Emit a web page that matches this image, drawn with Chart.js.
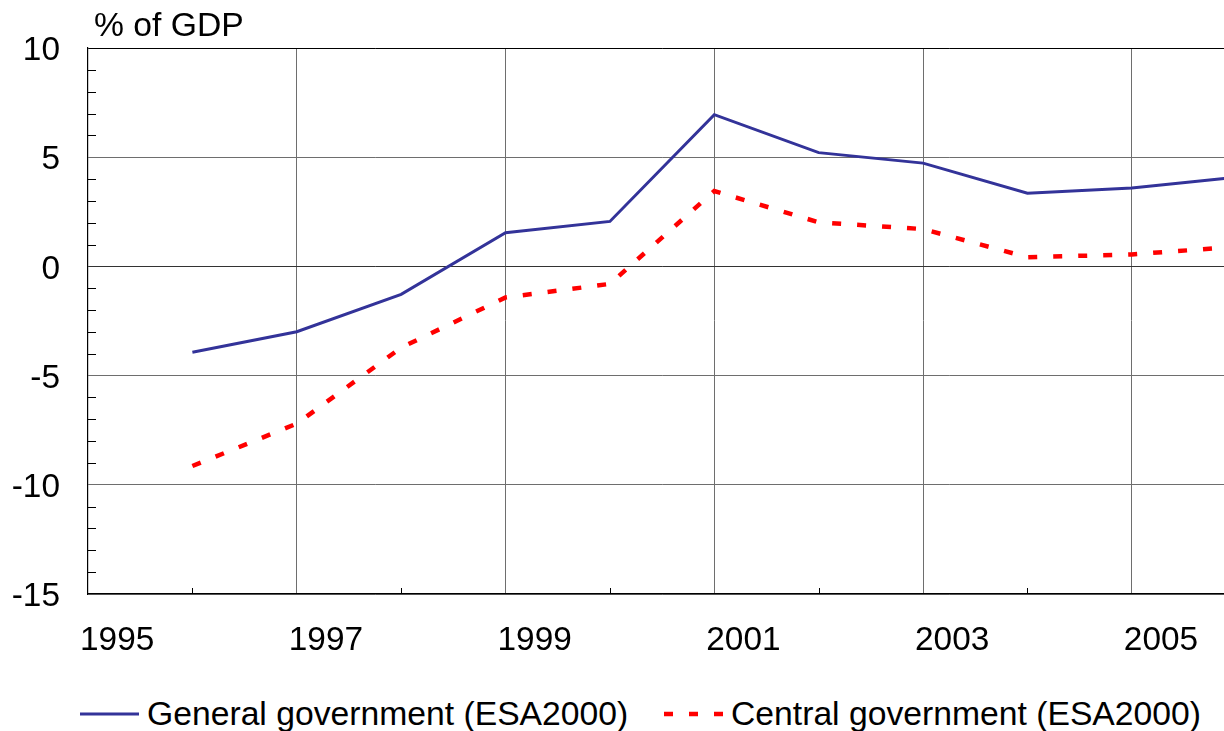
<!DOCTYPE html>
<html>
<head>
<meta charset="utf-8">
<title>Government balance</title>
<script src="https://cdn.jsdelivr.net/npm/chart.js@4.4.1/dist/chart.umd.min.js"></script>
<style>
  html, body { margin: 0; padding: 0; background: #fff; overflow: hidden; }
  #wrap { position: relative; width: 1280px; height: 731px; font-family: "Liberation Sans", Arial, sans-serif; color: #000; }
  #chart-box { position: absolute; left: 0; top: 0; width: 1280px; height: 684px; }
  .unit { position: absolute; left: 94px; top: 8px; font-size: 33.7px; line-height: 1; }
  .legend-item { position: absolute; top: 697px; display: flex; align-items: center; font-size: 33.7px; line-height: 1; white-space: nowrap; }
  .legend-item svg { margin-right: 8px; }
</style>
</head>
<body>
<div id="wrap">
  <div id="chart-box"><canvas id="balance-chart" role="img" aria-label="General and central government balance, % of GDP"></canvas></div>
  <div class="unit">% of GDP</div>
  <div class="legend-item" style="left:80px;">
    <svg width="59" height="10"><line x1="0" y1="5" x2="59" y2="5" stroke="#333399" stroke-width="3"/></svg>General government (ESA2000)
  </div>
  <div class="legend-item" style="left:664px;">
    <svg width="59" height="10"><line x1="0" y1="5" x2="59" y2="5" stroke="#ff0000" stroke-width="4.5" stroke-dasharray="9 16"/></svg>Central government (ESA2000)
  </div>
</div>
<script>
// balance, % of GDP, one point per year
const years = [1996, 1997, 1998, 1999, 2000, 2001, 2002, 2003, 2004, 2005, 2006];
const generalGov = [-3.93, -2.99, -1.28, 1.54, 2.06, 6.95, 5.21, 4.73, 3.35, 3.59, 4.08];
const centralGov = [-9.14, -7.2, -3.72, -1.42, -0.8, 3.45, 2.02, 1.71, 0.42, 0.55, 0.9];

// axis ticks
const yLabelTicks = [-15, -10, -5, 0, 5, 10];
const xLabelYears = [1995, 1997, 1999, 2001, 2003, 2005];

const FONT = { family: '"Liberation Sans", Arial, sans-serif', size: 33.4 };

// short inward tick marks for the unlabelled steps
const minorTicks = {
  id: 'minorTicks',
  beforeDatasetsDraw(chart) {
    const { ctx, chartArea, scales: { x, y } } = chart;
    ctx.save();
    ctx.strokeStyle = '#000';
    ctx.lineWidth = 1;
    ctx.beginPath();
    y.ticks.forEach(t => {
      if (yLabelTicks.includes(t.value)) return;
      const py = Math.round(y.getPixelForValue(t.value)) + 0.5;
      ctx.moveTo(chartArea.left, py);
      ctx.lineTo(chartArea.left + 8, py);
    });
    x.ticks.forEach(t => {
      if (xLabelYears.includes(t.value)) return;
      const px = Math.round(x.getPixelForValue(t.value)) + 0.5;
      ctx.moveTo(px, chartArea.bottom);
      ctx.lineTo(px, chartArea.bottom - 6);
    });
    ctx.stroke();
    ctx.restore();
  }
};

new Chart(document.getElementById('balance-chart'), {
  type: 'line',
  data: {
    datasets: [
      {
        label: 'General government (ESA2000)',
        data: years.map((yr, i) => ({ x: yr, y: generalGov[i] })),
        borderColor: '#333399', borderWidth: 3, pointRadius: 0, tension: 0, fill: false
      },
      {
        label: 'Central government (ESA2000)',
        data: years.map((yr, i) => ({ x: yr, y: centralGov[i] })),
        borderColor: '#ff0000', borderWidth: 4.5, borderDash: [9, 16], pointRadius: 0, tension: 0, fill: false
      }
    ]
  },
  options: {
    responsive: true,
    maintainAspectRatio: false,
    animation: false,
    layout: { padding: { top: 48, right: 43.8, left: 0, bottom: 0 } },
    plugins: { legend: { display: false }, tooltip: { enabled: false } },
    scales: {
      x: {
        type: 'linear',
        min: 1995, max: 2006,
        afterFit: s => { s.height = 90; },
        border: { display: true, color: '#000', width: 1.2 },
        grid: {
          drawTicks: false,
          color: c => (xLabelYears.includes(c.tick.value) && c.tick.value !== 1995) ? '#6e6e6e' : 'rgba(0,0,0,0)'
        },
        ticks: {
          stepSize: 1, autoSkip: false, maxRotation: 0,
          align: 'start', labelOffset: -8, padding: 27,
          color: '#000', font: FONT,
          callback: v => xLabelYears.includes(v) ? String(v) : ''
        }
      },
      y: {
        min: -15, max: 10,
        afterFit: s => { s.width = 88; },
        border: { display: true, color: '#000', width: 1.2 },
        grid: {
          drawTicks: false,
          color: c => {
            const v = c.tick.value;
            if (v === 10) return '#000';
            if (v === 0) return '#333';
            return yLabelTicks.includes(v) ? '#6e6e6e' : 'rgba(0,0,0,0)';
          }
        },
        ticks: {
          stepSize: 1, autoSkip: false,
          padding: 28, labelOffset: 3,
          color: '#000', font: FONT,
          callback: v => yLabelTicks.includes(v) ? String(v) : ''
        }
      }
    }
  },
  plugins: [minorTicks]
});
</script>
</body>
</html>
